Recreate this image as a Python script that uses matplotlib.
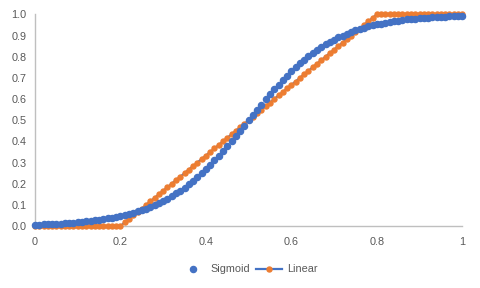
import numpy as np
import matplotlib
matplotlib.use("Agg")
import matplotlib.pyplot as plt

# x grid 0..1 step 0.01
x = np.linspace(0, 1, 101)

sigmoid = [0.007, 0.007, 0.008, 0.009, 0.010, 0.011, 0.012, 0.013, 0.015, 0.016,
           0.018, 0.020, 0.022, 0.024, 0.027, 0.029, 0.032, 0.036, 0.039, 0.043,
           0.047, 0.052, 0.057, 0.063, 0.069, 0.076, 0.083, 0.091, 0.100, 0.109,
           0.119, 0.130, 0.142, 0.154, 0.168, 0.182, 0.198, 0.214, 0.231, 0.250,
           0.269, 0.289, 0.310, 0.332, 0.354, 0.378, 0.401, 0.426, 0.450, 0.475,
           0.500,
           0.525, 0.550, 0.574, 0.599, 0.622, 0.646, 0.668, 0.690, 0.711, 0.731,
           0.750, 0.769, 0.786, 0.802, 0.818, 0.832, 0.846, 0.858, 0.870, 0.881,
           0.891, 0.900, 0.909, 0.917, 0.924, 0.931, 0.937, 0.943, 0.948, 0.953,
           0.957, 0.961, 0.964, 0.968, 0.971, 0.973, 0.976, 0.978, 0.980, 0.982,
           0.984, 0.985, 0.987, 0.988, 0.989, 0.990, 0.991, 0.992, 0.993, 0.993]

linear = [0.0] * 21 + [
    0.017, 0.033, 0.050, 0.067, 0.083, 0.100, 0.117, 0.133, 0.150, 0.167,
    0.183, 0.200, 0.217, 0.233, 0.250, 0.267, 0.283, 0.300, 0.317, 0.333,
    0.350, 0.367, 0.383, 0.400, 0.417, 0.433, 0.450, 0.467, 0.483, 0.500,
    0.517, 0.533, 0.550, 0.567, 0.583, 0.600, 0.617, 0.633, 0.650, 0.667,
    0.683, 0.700, 0.717, 0.733, 0.750, 0.767, 0.783, 0.800, 0.817, 0.833,
    0.850, 0.867, 0.883, 0.900, 0.917, 0.933, 0.950, 0.967, 0.983, 1.000] + [1.0] * 20

x_ticks = [0, 0.2, 0.4, 0.6, 0.8, 1]
x_labels = ["0", "0.2", "0.4", "0.6", "0.8", "1"]
y_ticks = [i / 10 for i in range(11)]
y_labels = ["%.1f" % v for v in y_ticks]

azul = "#4472C4"
naranja = "#ED7D31"
gris = "#595959"

plt.rcParams["font.family"] = ["Liberation Sans", "DejaVu Sans"]

fig = plt.figure(figsize=(4.8, 2.88), dpi=100)
ax = fig.add_axes([0.073, 0.215, 0.89, 0.735])

ax.plot(x, linear, linestyle="-", linewidth=1.6, color=azul, marker="o",
        markersize=3.6, markerfacecolor=naranja, markeredgecolor=naranja,
        label="Linear", clip_on=False, zorder=3)
ax.plot(x, sigmoid, linestyle="none", marker="o", markersize=4.4,
        color=azul, label="Sigmoid", clip_on=False, zorder=4)

ax.set_xlim(0, 1)
ax.set_ylim(0, 1)
ax.set_xticks(x_ticks)
ax.set_xticklabels(x_labels)
ax.set_yticks(y_ticks)
ax.set_yticklabels(y_labels)
ax.tick_params(length=0, labelsize=7.8, colors=gris)
ax.tick_params(axis="x", pad=8)
ax.tick_params(axis="y", pad=6)

for lado in ["top", "right"]:
    ax.spines[lado].set_visible(False)
ax.spines["left"].set_color("#BFBFBF")
ax.spines["bottom"].set_color("#BFBFBF")
ax.spines["left"].set_linewidth(1)
ax.spines["bottom"].set_linewidth(1)

handles, labels = ax.get_legend_handles_labels()
leg = ax.legend(handles[::-1], labels[::-1], loc="center", bbox_to_anchor=(0.5, -0.205),
                ncol=2, frameon=False, fontsize=7.8, handlelength=2.4,
                columnspacing=0.6, handletextpad=0.4)
for t in leg.get_texts():
    t.set_color(gris)

fig.savefig("out.png", dpi=100)
